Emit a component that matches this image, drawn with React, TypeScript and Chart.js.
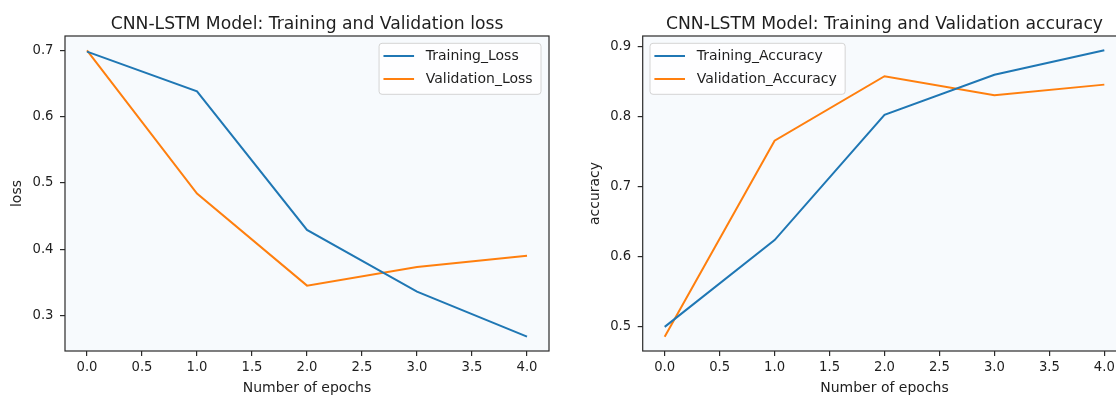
import React, { useEffect, useRef } from 'react';
import { Chart, registerables } from 'chart.js';

Chart.register(...registerables);

// ---- data ----
const epochs = [0, 1, 2, 3, 4];
const trainingLoss = [0.698, 0.638, 0.429, 0.336, 0.268];
const validationLoss = [0.7, 0.484, 0.345, 0.373, 0.39];
const trainingAccuracy = [0.499, 0.623, 0.802, 0.859, 0.894];
const validationAccuracy = [0.485, 0.765, 0.857, 0.83, 0.845];
const xTickValues = [0, 0.5, 1, 1.5, 2, 2.5, 3, 3.5, 4];
const lossTickValues = [0.3, 0.4, 0.5, 0.6, 0.7];
const accTickValues = [0.5, 0.6, 0.7, 0.8, 0.9];
const lossSeriesNames = ['Training_Loss', 'Validation_Loss'];
const accSeriesNames = ['Training_Accuracy', 'Validation_Accuracy'];
const lossTitle = 'CNN-LSTM Model: Training and Validation loss';
const accTitle = 'CNN-LSTM Model: Training and Validation accuracy';
const xAxisLabel = 'Number of epochs';
const lossAxisLabel = 'loss';
const accAxisLabel = 'accuracy';

// ---- style ----
const FONT = '"DejaVu Sans", Verdana, sans-serif';
const BLUE = '#1f77b4';
const ORANGE = '#ff7f0e';
const BG = '#f7fafd';
const TEXT = '#1e1e1e';

function padRange(vals: number[]) {
  const mn = Math.min(...vals);
  const mx = Math.max(...vals);
  const m = (mx - mn) * 0.05;
  return { min: mn - m, max: mx + m };
}

type PanelCfg = {
  title: string;
  yLabel: string;
  names: string[];
  legendSide: 'left' | 'right';
};

function decorPlugin(cfg: PanelCfg) {
  return {
    id: 'decor',
    beforeDraw(chart: any) {
      const { ctx, chartArea: a } = chart;
      ctx.save();
      ctx.fillStyle = BG;
      ctx.fillRect(a.left, a.top, a.right - a.left, a.bottom - a.top);
      ctx.restore();
    },
    afterDraw(chart: any) {
      const { ctx, chartArea: a } = chart;
      ctx.save();
      // frame
      ctx.strokeStyle = '#2a2a2a';
      ctx.lineWidth = 1.2;
      ctx.strokeRect(a.left, a.top, a.right - a.left, a.bottom - a.top);
      // title
      ctx.fillStyle = TEXT;
      ctx.font = `17.2px ${FONT}`;
      ctx.textAlign = 'center';
      ctx.textBaseline = 'alphabetic';
      ctx.fillText(cfg.title, (a.left + a.right) / 2, 28.5);
      // x label
      ctx.font = `14px ${FONT}`;
      ctx.fillText(xAxisLabel, (a.left + a.right) / 2, 392);
      // y label
      ctx.save();
      ctx.translate(a.left - 44, (a.top + a.bottom) / 2);
      ctx.rotate(-Math.PI / 2);
      ctx.textAlign = 'center';
      ctx.textBaseline = 'alphabetic';
      ctx.fillText(cfg.yLabel, 0, 0);
      ctx.restore();
      // legend
      ctx.font = `14px ${FONT}`;
      const tw = Math.max(...cfg.names.map((n) => ctx.measureText(n).width));
      const boxW = 4.4 + 30.6 + 11.7 + tw + 8.4;
      const boxH = 51;
      const bx = cfg.legendSide === 'right' ? a.right - 8 - boxW : a.left + 7.3;
      const by = a.top + 7.3;
      ctx.beginPath();
      const r = 3;
      ctx.moveTo(bx + r, by);
      ctx.arcTo(bx + boxW, by, bx + boxW, by + boxH, r);
      ctx.arcTo(bx + boxW, by + boxH, bx, by + boxH, r);
      ctx.arcTo(bx, by + boxH, bx, by, r);
      ctx.arcTo(bx, by, bx + boxW, by, r);
      ctx.closePath();
      ctx.fillStyle = 'rgba(255,255,255,0.8)';
      ctx.fill();
      ctx.strokeStyle = '#d4d4d4';
      ctx.lineWidth = 1;
      ctx.stroke();
      const colors = [BLUE, ORANGE];
      cfg.names.forEach((n, i) => {
        const ly = by + 12.7 + i * 23;
        ctx.strokeStyle = colors[i];
        ctx.lineWidth = 2;
        ctx.beginPath();
        ctx.moveTo(bx + 4.4, ly);
        ctx.lineTo(bx + 35, ly);
        ctx.stroke();
        ctx.fillStyle = TEXT;
        ctx.textAlign = 'left';
        ctx.textBaseline = 'middle';
        ctx.fillText(n, bx + 46.7, ly + 0.5);
      });
      ctx.restore();
    },
  };
}

function makeConfig(
  series: number[][],
  yTicks: number[],
  cfg: PanelCfg,
  yAxisWidth: number,
  rightPad: number
): any {
  const all = series.flat();
  const yr = padRange(all);
  const xr = padRange(epochs);
  const colors = [BLUE, ORANGE];
  return {
    type: 'line',
    data: {
      datasets: series.map((s, i) => ({
        label: cfg.names[i],
        data: epochs.map((e, j) => ({ x: e, y: s[j] })),
        borderColor: colors[i],
        backgroundColor: colors[i],
        borderWidth: 2,
        pointRadius: 0,
        tension: 0,
        fill: false,
      })),
    },
    options: {
      responsive: false,
      animation: false,
      devicePixelRatio: 1,
      layout: { padding: { top: 36, right: rightPad, left: 0, bottom: 0 } },
      plugins: {
        legend: { display: false },
        tooltip: { enabled: false },
        title: { display: false },
      },
      scales: {
        x: {
          type: 'linear',
          min: xr.min,
          max: xr.max,
          afterBuildTicks: (axis: any) => {
            axis.ticks = xTickValues.map((v) => ({ value: v }));
          },
          afterFit: (scale: any) => {
            scale.height = 44;
          },
          ticks: {
            callback: (v: any) => Number(v).toFixed(1),
            font: { family: FONT, size: 13.2 },
            color: TEXT,
            padding: 3.5,
            maxRotation: 0,
            autoSkip: false,
          },
          grid: {
            display: true,
            drawOnChartArea: false,
            drawTicks: true,
            tickLength: 5,
            color: '#2a2a2a',
            lineWidth: 1.2,
          },
          border: { display: false },
        },
        y: {
          type: 'linear',
          min: yr.min,
          max: yr.max,
          afterBuildTicks: (axis: any) => {
            axis.ticks = yTicks.map((v) => ({ value: v }));
          },
          afterFit: (scale: any) => {
            scale.width = yAxisWidth;
          },
          ticks: {
            callback: (v: any) => Number(v).toFixed(1),
            font: { family: FONT, size: 13.2 },
            color: TEXT,
            padding: 6.5,
            autoSkip: false,
          },
          grid: {
            display: true,
            drawOnChartArea: false,
            drawTicks: true,
            tickLength: 5,
            color: '#2a2a2a',
            lineWidth: 1.2,
          },
          border: { display: false },
        },
      },
    },
    plugins: [decorPlugin(cfg)],
  };
}

function Panel(props: {
  left: number;
  width: number;
  series: number[][];
  yTicks: number[];
  cfg: PanelCfg;
  yAxisWidth: number;
  rightPad: number;
}) {
  const ref = useRef<HTMLCanvasElement | null>(null);
  useEffect(() => {
    if (!ref.current) return;
    const chart = new Chart(
      ref.current,
      makeConfig(props.series, props.yTicks, props.cfg, props.yAxisWidth, props.rightPad)
    );
    return () => chart.destroy();
  }, []);
  return (
    <canvas
      ref={ref}
      width={props.width}
      height={395}
      style={{ position: 'absolute', left: props.left, top: 0, width: props.width, height: 395 }}
    />
  );
}

export default function App() {
  return (
    <div
      style={{
        position: 'absolute',
        left: 0,
        top: 0,
        width: 1116,
        height: 395,
        overflow: 'hidden',
        background: '#ffffff',
      }}
    >
      <Panel
        left={0}
        width={560}
        series={[trainingLoss, validationLoss]}
        yTicks={lossTickValues}
        cfg={{ title: lossTitle, yLabel: lossAxisLabel, names: lossSeriesNames, legendSide: 'right' }}
        yAxisWidth={65}
        rightPad={11}
      />
      <Panel
        left={560}
        width={580}
        series={[trainingAccuracy, validationAccuracy]}
        yTicks={accTickValues}
        cfg={{ title: accTitle, yLabel: accAxisLabel, names: accSeriesNames, legendSide: 'left' }}
        yAxisWidth={82.7}
        rightPad={13.7}
      />
    </div>
  );
}
